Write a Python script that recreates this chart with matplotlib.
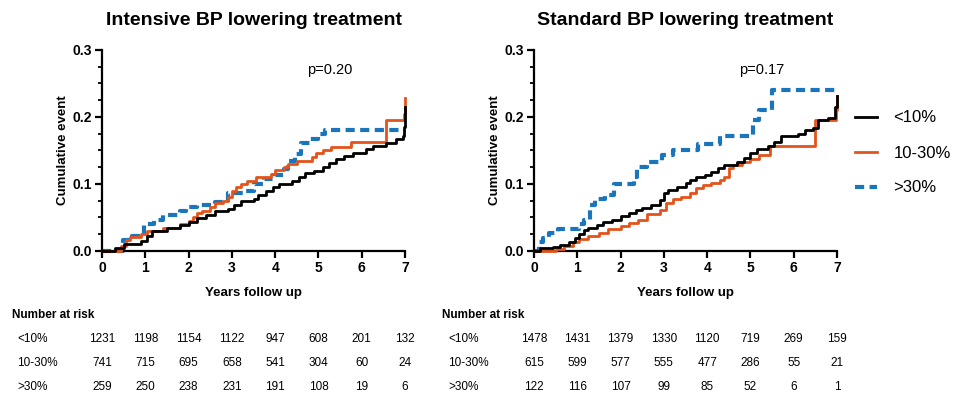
import matplotlib
matplotlib.use("Agg")
import matplotlib.pyplot as plt
from matplotlib.ticker import MultipleLocator
from matplotlib.transforms import blended_transform_factory

plt.rcParams["font.family"] = ["Liberation Sans", "DejaVu Sans"]

# Curvas (tiempo en años, evento acumulado)
int_lt10_t = [0, 0.3, 0.5, 0.9, 1.05, 1.15, 1.5, 1.8, 2.0, 2.2, 2.4, 2.6, 2.9, 3.05, 3.2, 3.5, 3.6, 3.8, 3.95,
              4.1, 4.4, 4.55, 4.7, 4.9, 5.1, 5.25, 5.4, 5.6, 5.8, 6.1, 6.25, 6.55, 6.8, 6.95, 6.98, 7.0]
int_lt10_y = [0, 0.004, 0.01, 0.015, 0.022, 0.03, 0.034, 0.039, 0.043, 0.049, 0.054, 0.059, 0.063, 0.068, 0.074,
              0.078, 0.084, 0.089, 0.095, 0.1, 0.105, 0.11, 0.116, 0.12, 0.126, 0.132, 0.137, 0.142, 0.147,
              0.152, 0.156, 0.161, 0.167, 0.172, 0.185, 0.215]
int_1030_t = [0, 0.45, 0.55, 0.65, 0.9, 1.05, 1.4, 1.8, 2.0, 2.1, 2.2, 2.3, 2.5, 2.6, 2.8, 2.9, 3.0, 3.1, 3.2, 3.35,
              3.55, 3.9, 4.0, 4.2, 4.3, 4.5, 4.85, 4.95, 5.1, 5.3, 5.75, 6.55, 6.98, 7.0]
int_1030_y = [0, 0.008, 0.016, 0.021, 0.026, 0.03, 0.035, 0.04, 0.045, 0.05, 0.056, 0.06, 0.066, 0.071, 0.075,
              0.08, 0.089, 0.095, 0.1, 0.105, 0.11, 0.115, 0.121, 0.125, 0.13, 0.135, 0.14, 0.146, 0.151,
              0.155, 0.163, 0.195, 0.205, 0.228]
int_gt30_t = [0, 0.48, 0.7, 0.98, 1.2, 1.4, 1.8, 1.95, 2.2, 2.6, 2.9, 3.3, 3.5, 3.75, 4.0, 4.2, 4.3, 4.45, 4.6,
              4.8, 5.0, 5.15, 7.0]
int_gt30_y = [0, 0.017, 0.023, 0.04, 0.046, 0.053, 0.06, 0.066, 0.069, 0.073, 0.086, 0.09, 0.1, 0.108, 0.114,
              0.122, 0.135, 0.145, 0.161, 0.167, 0.175, 0.181, 0.181]

std_lt10_t = [0, 0.15, 0.45, 0.6, 0.8, 0.95, 1.05, 1.15, 1.25, 1.45, 1.6, 1.8, 2.0, 2.2, 2.35, 2.5, 2.7, 2.9, 3.0,
              3.1, 3.3, 3.5, 3.6, 3.75, 3.95, 4.1, 4.25, 4.4, 4.7, 4.85, 5.0, 5.15, 5.4, 5.55, 5.7, 6.1, 6.25,
              6.45, 6.55, 6.8, 6.95, 7.0]
std_lt10_y = [0, 0.004, 0.006, 0.009, 0.013, 0.019, 0.026, 0.031, 0.034, 0.039, 0.043, 0.047, 0.052, 0.057,
              0.061, 0.064, 0.069, 0.076, 0.086, 0.091, 0.096, 0.101, 0.106, 0.111, 0.114, 0.118, 0.124, 0.128,
              0.133, 0.139, 0.146, 0.152, 0.157, 0.163, 0.171, 0.174, 0.18, 0.184, 0.195, 0.199, 0.215, 0.232]
std_1030_t = [0, 0.5, 0.7, 0.9, 1.05, 1.25, 1.5, 1.7, 2.0, 2.2, 2.4, 2.6, 2.9, 3.05, 3.2, 3.4, 3.6, 3.75, 3.9,
              4.1, 4.3, 4.4, 4.5, 4.6, 4.8, 5.0, 5.2, 5.45, 6.5, 6.98, 7.0]
std_1030_y = [0, 0.003, 0.007, 0.013, 0.018, 0.023, 0.027, 0.033, 0.037, 0.042, 0.047, 0.055, 0.061, 0.071,
              0.077, 0.081, 0.087, 0.094, 0.099, 0.101, 0.106, 0.111, 0.124, 0.128, 0.133, 0.138, 0.143, 0.157,
              0.195, 0.21, 0.232]
std_gt30_t = [0, 0.12, 0.2, 0.35, 0.55, 1.05, 1.15, 1.3, 1.4, 1.65, 1.85, 2.3, 2.37, 2.6, 2.95, 3.2, 3.8, 4.3,
              5.05, 5.2, 5.5, 7.0]
std_gt30_y = [0, 0.013, 0.02, 0.027, 0.033, 0.04, 0.046, 0.068, 0.077, 0.083, 0.1, 0.11, 0.125, 0.133, 0.143,
              0.151, 0.16, 0.171, 0.195, 0.211, 0.24, 0.24]

# Tabla de numero en riesgo
grupos = ["<10%", "10-30%", ">30%"]
int_riesgo = [[1231, 1198, 1154, 1122, 947, 608, 201, 132],
              [741, 715, 695, 658, 541, 304, 60, 24],
              [259, 250, 238, 231, 191, 108, 19, 6]]
std_riesgo = [[1478, 1431, 1379, 1330, 1120, 719, 269, 159],
              [615, 599, 577, 555, 477, 286, 55, 21],
              [122, 116, 107, 99, 85, 52, 6, 1]]
anios = list(range(8))

negro = "#000000"
naranja = "#E2541B"
azul = "#1B75BB"

fig = plt.figure(figsize=(9.56, 3.95), dpi=100)
ax1 = fig.add_axes([102 / 956, 1 - 251 / 395, 303 / 956, 201 / 395])
ax2 = fig.add_axes([534 / 956, 1 - 251 / 395, 303 / 956, 201 / 395])

paneles = [
    (ax1, "Intensive BP lowering treatment", "p=0.20",
     [(int_lt10_t, int_lt10_y), (int_1030_t, int_1030_y), (int_gt30_t, int_gt30_y)], int_riesgo, 12, 17),
    (ax2, "Standard BP lowering treatment", "p=0.17",
     [(std_lt10_t, std_lt10_y), (std_1030_t, std_1030_y), (std_gt30_t, std_gt30_y)], std_riesgo, 442, 448),
]

for ax, titulo, pval, curvas, riesgo, x_hdr, x_lbl in paneles:
    (t1, y1), (t2, y2), (t3, y3) = curvas
    ax.step(t3, y3, where="post", color=azul, lw=3, dashes=(2.2, 1.3), label=">30%", zorder=2, clip_on=False)
    ax.step(t2, y2, where="post", color=naranja, lw=2, label="10-30%", zorder=3, clip_on=False)
    ax.step(t1, y1, where="post", color=negro, lw=2, label="<10%", zorder=4, clip_on=False)

    ax.set_xlim(0, 7)
    ax.set_ylim(0, 0.3)
    ax.set_xticks(range(8))
    ax.set_yticks([0, 0.1, 0.2, 0.3])
    ax.set_yticklabels(["0.0", "0.1", "0.2", "0.3"])
    ax.yaxis.set_minor_locator(MultipleLocator(0.025))
    for s in ["top", "right"]:
        ax.spines[s].set_visible(False)
    for s in ["left", "bottom"]:
        ax.spines[s].set_linewidth(1.6)
    ax.tick_params(which="major", length=5, width=1.6, labelsize=10, pad=2)
    ax.tick_params(which="minor", length=3, width=1.3)
    for lab in ax.get_xticklabels() + ax.get_yticklabels():
        lab.set_fontweight("bold")
    ax.set_xlabel("Years follow up", fontsize=9.5, fontweight="bold", labelpad=9)
    ax.set_ylabel("Cumulative event", fontsize=9.5, fontweight="bold", labelpad=2.5)
    ax.set_title(titulo, fontsize=14, fontweight="bold", pad=18)
    ax.text(5.27, 0.27, pval, fontsize=10.5, ha="center", va="center")

    # Tabla debajo, columnas alineadas con los años del eje x
    tr = blended_transform_factory(ax.transData, fig.transFigure)
    fig.text(x_hdr / 956, 1 - 315 / 395, "Number at risk", fontsize=8.5, fontweight="bold", va="center")
    filas_y = [339, 363, 387]
    for g, fila, yp in zip(grupos, riesgo, filas_y):
        fig.text(x_lbl / 956, 1 - yp / 395, g, fontsize=8.5, va="center")
        for a, n in zip(anios, fila):
            ax.text(a, 1 - yp / 395, str(n), fontsize=8.5, ha="center", va="center", transform=tr)

h, l = ax2.get_legend_handles_labels()
fig.legend(h[::-1], l[::-1], loc="center left", bbox_to_anchor=(840 / 956, 1 - 153 / 395),
           frameon=False, fontsize=12, handlelength=1.3, labelspacing=1.2, handletextpad=1.0)

fig.savefig("out.png", dpi=100)
